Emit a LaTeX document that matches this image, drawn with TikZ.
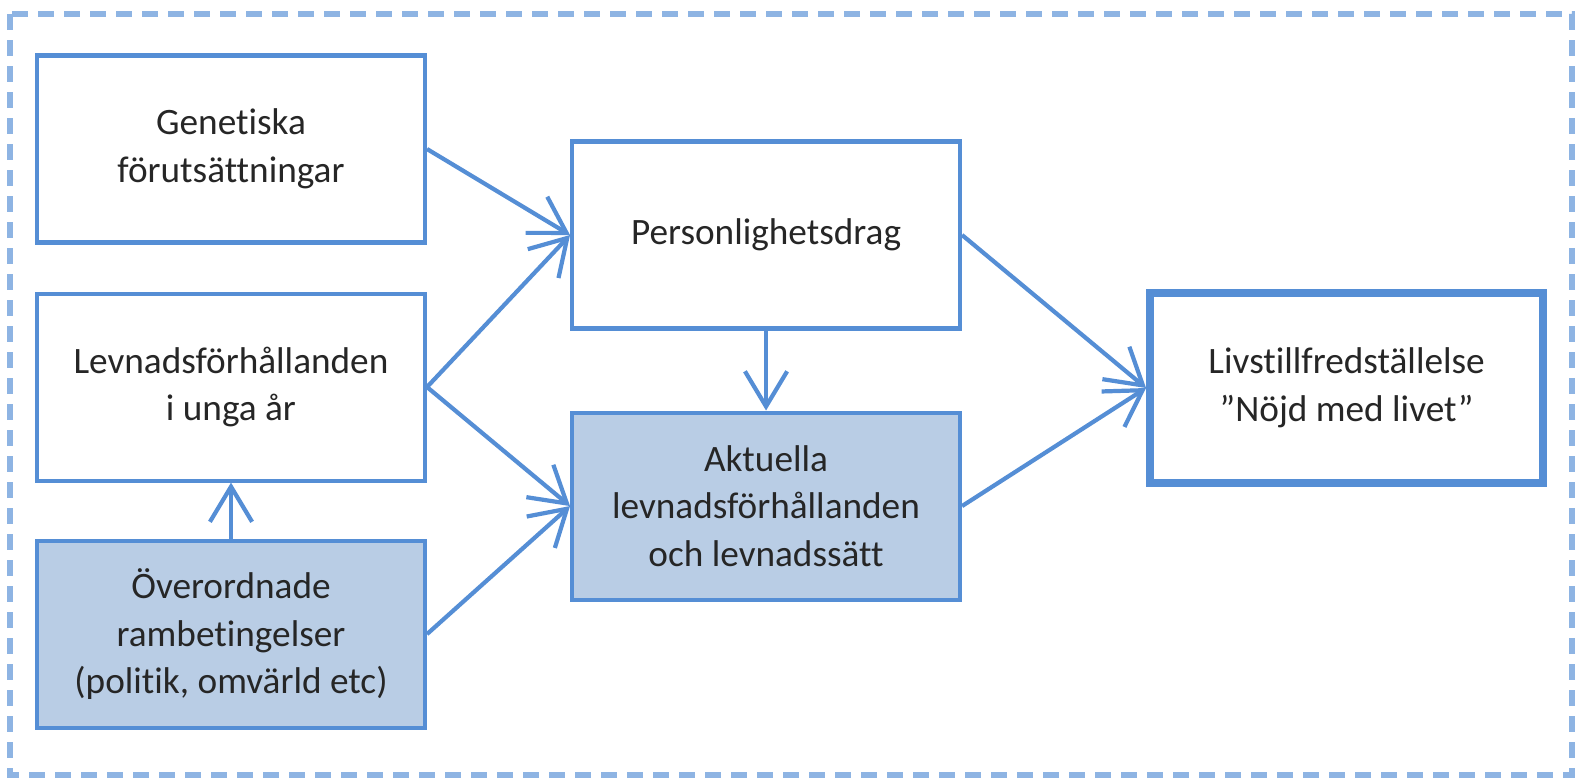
\documentclass[tikz,border=0pt]{standalone}
\usepackage{fontspec}
\setmainfont{Carlito}[Ligatures=NoCommon]
\usepackage{tikz}
\usetikzlibrary{positioning}
\usetikzlibrary{arrows.meta}

\definecolor{boxblue}{RGB}{85,142,213}
\definecolor{fillblue}{RGB}{185,205,229}
\definecolor{frameblue}{RGB}{142,180,227}

\tikzset{
  box/.style={draw=boxblue, line width=1.15pt, fill=white, align=center,
    minimum width=3.88cm, minimum height=1.87cm, text=black!85,
    font=\fontsize{10.6}{13.6}\selectfont},
  shaded/.style={box, fill=fillblue},
  goal/.style={box, line width=2.3pt, minimum width=3.93cm, minimum height=1.9cm},
  link/.style={draw=boxblue, line width=1.2pt, -{Straight Barb[length=10pt,width=12pt,line width=1.2pt]}},
  frame/.style={draw=frameblue, line width=1.5pt, dash pattern=on 0.16cm off 0.1cm}
}

\begin{document}
\begin{tikzpicture}
    \useasboundingbox (0,0) rectangle (15.75,-7.78);
    \draw[frame] (0.1,-0.14) rectangle (15.72,-7.75);

        % Define nodes
        \node[box] (1) at (2.31,-1.49) {Genetiska\\förutsättningar};
        \node[box, below=0.47cm of 1]    (2) {Levnadsförhållanden\\i unga år};
        \node[shaded, below=0.56cm of 2] (3) {Överordnade\\rambetingelser\\(politik, omvärld etc)};
        \node[box, right=1.43cm of 1, yshift=-0.86cm] (4) {Personlighetsdrag};
        \node[shaded, below=0.8cm of 4]  (5) {Aktuella\\levnadsförhållanden\\och levnadssätt};
        \node[goal, right=1.84cm of 4, yshift=-1.53cm] (6) {Livstillfredställelse\\”Nöjd med livet”};

        % Connect the nodes
        \draw[link] (1.east) -- (4.west);
        \draw[link] (2.east) -- (4.west);
        \draw[link] (2.east) -- (5.west);
        \draw[link] (3.east) -- (5.west);
        \draw[link] (3) -- (2);
        \draw[link] (4) -- (5);
        \draw[link] (4.east) -- (6.west);
        \draw[link] (5.east) -- (6.west);
      \end{tikzpicture}
\end{document}
